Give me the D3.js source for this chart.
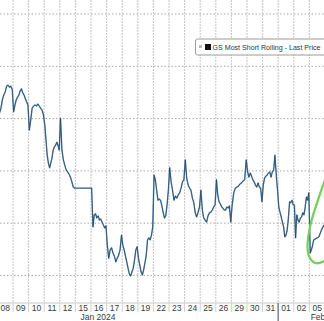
<!DOCTYPE html>
<html>
<head>
<meta charset="utf-8">
<script src="https://d3js.org/d3.v7.min.js"></script>
<style>
  html, body { margin: 0; padding: 0; background: #fff; }
  svg { display: block; }
  .lbl { font-family: "Liberation Sans", Arial, sans-serif; font-size: 8.5px; fill: #3a3a3a; }
</style>
</head>
<body>
<div id="chart"></div>
<script>
// trading days shown on the axis
const dayLabels = ["08","09","10","11","12","15","16","17","18","19","22","23","24","25","26","29","30","31","01","02","05"];

// intraday prices per trading day (Jan 15 market holiday: no prints)
const d08 = [210.5,211.1,212.0,213.6,214.5,215.1,216.2,216.4,216.0,216.2,215.5];
const d09 = [211.3,212.6,213.6,214.1,214.5,215.3,215.7,214.9,214.5,213.8,213.2,212.6];
const d10 = [207.8,209.7,212.0,212.4,212.6,212.4,212.8,212.4,212.0,211.6,210.7];
const d11 = [208.8,205.9,203.0,201.5,200.6,201.5,202.5,204.0,204.6,204.9,205.5,204.9,204.0];
const d12 = [210.1,204.0,202.1,201.1,200.2,199.8,199.4,198.8,197.9,196.9,196.7];
const d15 = [];
const d16 = [196.7,189.3,191.6,191.8,191.0,191.4,190.6,190.8,190.2,189.7,189.1,189.5];
const d17 = [185.8,183.3,184.9,185.3,184.3,183.7,182.6,183.3,183.9,184.9,187.7];
const d18 = [185.8,184.9,183.7,182.6,181.4,180.3,179.9,180.7,181.4,183.0,184.9,185.5];
const d19 = [183.3,182.0,180.7,180.1,181.1,182.4,183.9,186.8,187.2,186.8,187.7,189.3];
const d22 = [199.2,198.3,196.3,194.4,194.6,194.4,193.3,192.1,191.0,191.4,193.5,196.3];
const d23 = [200.6,197.9,196.3,194.4,195.2,194.8,195.4,195.8,196.7,197.9,198.3];
const d24 = [202.1,198.6,197.3,196.7,196.3,194.8,193.9,192.0,191.2,192.1,193.1];
const d25 = [196.3,192.5,191.0,190.6,190.2,191.4,192.0,192.1,192.5,193.1,193.5];
const d26 = [198.3,195.4,194.1,193.7,193.1,192.9,192.5,192.5,193.1,192.9,193.3,190.2];
const d29 = [193.5,195.8,196.7,196.9,197.1,197.5,197.7,198.1,198.3,202.1];
const d30 = [199.8,198.8,199.6,199.0,198.3,197.9,197.3,196.9,197.7,196.9,196.7,194.1];
const d31 = [197.3,198.6,199.0,199.2,199.6,199.8,198.8,199.8,200.2,203.0,199.2,196.3];
const d01 = [193.1,192.1,191.2,190.2,189.3,187.4,187.7,188.7,191.0,194.1,193.9,194.4,193.5];
const d02 = [193.5,187.2,191.6,190.6,190.2,191.0,191.2,192.0,191.6,193.1,195.0,194.4,195.8];
const d05 = [184.3,185.3,186.8,187.0,187.2,187.4,188.3,189.1,189.7];
const intraday = [d08,d09,d10,d11,d12,d15,d16,d17,d18,d19,d22,d23,d24,d25,d26,d29,d30,d31,d01,d02,d05];

// horizontal grid levels (axis labels are cropped out of the picture)
const yTicks = [180, 190, 200, 210, 220, 230];

// hand-drawn annotation loop, in (trading day, price) units
const loopDay = [21.06, 20.87, 20.55, 20.23, 19.97, 19.85, 19.91, 20.17, 20.49, 20.87, 21.19];
const loopVal = [198.6, 197.3, 194.4, 191.6, 188.7, 185.8, 183.9, 182.6, 182.2, 182.6, 183.2];

const W = 324, H = 321;
const axisY = 303;

const svg = d3.select("#chart").append("svg")
  .attr("width", W).attr("height", H);

const x = d3.scaleLinear().domain([0, dayLabels.length]).range([-2.6, 325]);
const y = d3.scaleLinear().domain([180, 230]).range([275.5, 14]);

// series points spread evenly inside each day slot
const points = [];
intraday.forEach((vals, i) => {
  vals.forEach((v, j) => points.push({ t: i + (j + 0.5) / vals.length, v: v }));
});

// grid
svg.append("g").selectAll("line")
  .data(yTicks).join("line")
  .attr("x1", 0).attr("x2", W)
  .attr("y1", d => y(d)).attr("y2", d => y(d))
  .attr("stroke", "#a8a8a8").attr("stroke-width", 1)
  .attr("stroke-dasharray", "1.5,2");

const bounds = d3.range(1, dayLabels.length);
svg.append("g").selectAll("line")
  .data(bounds).join("line")
  .attr("x1", d => x(d)).attr("x2", d => x(d))
  .attr("y1", 0).attr("y2", axisY)
  .attr("stroke", "#c4c4c4").attr("stroke-width", 1)
  .attr("stroke-dasharray", "2,1");

// axis line and ticks between day labels
svg.append("line")
  .attr("x1", 0).attr("x2", W).attr("y1", axisY).attr("y2", axisY)
  .attr("stroke", "#c8c8c8");
svg.append("g").selectAll("line")
  .data(bounds).join("line")
  .attr("x1", d => x(d)).attr("x2", d => x(d))
  .attr("y1", axisY).attr("y2", axisY + 9)
  .attr("stroke", "#d0d0d0");

// month separator (Jan | Feb)
const febStart = dayLabels.indexOf("01");
svg.append("line")
  .attr("x1", x(febStart)).attr("x2", x(febStart))
  .attr("y1", axisY).attr("y2", H)
  .attr("stroke", "#8a8a8a").attr("stroke-width", 1.6);

// day labels
svg.append("g").selectAll("text")
  .data(dayLabels).join("text")
  .attr("class", "lbl")
  .attr("x", (d, i) => x(i + 0.5))
  .attr("y", 311)
  .attr("text-anchor", "middle")
  .text(d => d);

svg.append("text").attr("class", "lbl")
  .attr("x", x(6.45)).attr("y", 319.5)
  .attr("text-anchor", "middle")
  .text("Jan 2024");
svg.append("text").attr("class", "lbl")
  .attr("x", x(20.08)).attr("y", 319.5)
  .text("Feb");

// price line
const line = d3.line().x(d => x(d.t)).y(d => y(d.v));
svg.append("path").datum(points)
  .attr("d", line)
  .attr("fill", "none")
  .attr("stroke", "#5289b6").attr("stroke-width", 1.4)
  .attr("stroke-linejoin", "round");
svg.append("path").datum(points)
  .attr("d", line)
  .attr("fill", "none")
  .attr("stroke", "#111").attr("stroke-opacity", 0.65).attr("stroke-width", 0.6);

// green annotation
const loop = loopDay.map((d, i) => [d, loopVal[i]]);
svg.append("path").datum(loop)
  .attr("d", d3.line().x(d => x(d[0])).y(d => y(d[1])).curve(d3.curveBasis))
  .attr("fill", "none")
  .attr("stroke", "#74cf55").attr("stroke-width", 2.2)
  .attr("stroke-linecap", "round");

// legend
const lg = svg.append("g");
lg.append("rect")
  .attr("x", 195.5).attr("y", 39).attr("width", 140).attr("height", 16)
  .attr("rx", 2)
  .attr("fill", "#fff").attr("stroke", "#9a9a9a");
lg.append("rect")
  .attr("x", 199).attr("y", 45).attr("width", 3).attr("height", 3)
  .attr("fill", "#bdbdbd");
lg.append("rect")
  .attr("x", 205).attr("y", 44).attr("width", 6).attr("height", 6)
  .attr("fill", "#111");
lg.append("text")
  .attr("x", 212.5).attr("y", 50)
  .attr("font-family", "Liberation Sans, Arial, sans-serif")
  .attr("font-size", 7.1)
  .attr("fill", "#333")
  .text("GS Most Short Rolling - Last Price");
</script>
</body>
</html>
